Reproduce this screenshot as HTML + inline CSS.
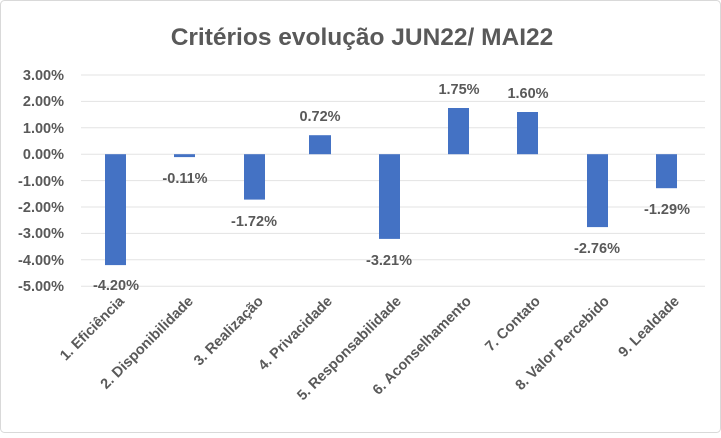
<!DOCTYPE html>
<html><head><meta charset="utf-8"><style>
body{margin:0;background:#fff}
svg text{font-family:"Liberation Sans",sans-serif;font-weight:bold;fill:#595959}
</style></head><body>
<svg width="721" height="433" viewBox="0 0 721 433" xmlns="http://www.w3.org/2000/svg">
<rect x="0.5" y="0.5" width="720" height="432" rx="4" fill="#fff" stroke="#d9d9d9"/>
<text x="362" y="45" font-size="24.5" text-anchor="middle">Critérios evolução JUN22/  MAI22</text>
<g stroke="#e3e3e3" stroke-width="1">
<line x1="81" x2="705" y1="75" y2="75"/><line x1="81" x2="705" y1="101.4" y2="101.4"/>
<line x1="81" x2="705" y1="127.8" y2="127.8"/><line x1="81" x2="705" y1="154.2" y2="154.2"/>
<line x1="81" x2="705" y1="180.6" y2="180.6"/><line x1="81" x2="705" y1="207" y2="207"/>
<line x1="81" x2="705" y1="233.4" y2="233.4"/><line x1="81" x2="705" y1="259.8" y2="259.8"/>
<line x1="81" x2="705" y1="286.2" y2="286.2"/>
</g>
<g font-size="14.5" text-anchor="end">
<text x="64" y="80">3.00%</text><text x="64" y="106">2.00%</text><text x="64" y="133">1.00%</text>
<text x="64" y="159">0.00%</text><text x="64" y="186">-1.00%</text><text x="64" y="212">-2.00%</text>
<text x="64" y="238">-3.00%</text><text x="64" y="265">-4.00%</text><text x="64" y="291">-5.00%</text>
</g>
<g fill="#4472c4">
<rect x="105" y="154.2" width="21" height="110.9"/>
<rect x="174" y="154.2" width="21" height="2.9"/>
<rect x="244" y="154.2" width="21" height="45.4"/>
<rect x="309" y="135.2" width="22" height="19"/>
<rect x="379" y="154.2" width="21" height="84.7"/>
<rect x="448" y="108" width="21" height="46.2"/>
<rect x="517" y="112" width="21" height="42.2"/>
<rect x="587" y="154.2" width="21" height="72.9"/>
<rect x="656" y="154.2" width="21" height="34"/>
</g>
<g font-size="14.5" text-anchor="middle">
<text x="116" y="290">-4.20%</text><text x="185" y="183">-0.11%</text><text x="254" y="226">-1.72%</text>
<text x="320" y="121">0.72%</text><text x="389" y="265">-3.21%</text><text x="459" y="94">1.75%</text>
<text x="528" y="98">1.60%</text><text x="597" y="253">-2.76%</text><text x="667" y="214">-1.29%</text>
</g>
<g font-size="14.5" text-anchor="end">
<text transform="translate(125,302) rotate(-45)">1. Eficiência</text>
<text transform="translate(194,302) rotate(-45)">2. Disponibilidade</text>
<text transform="translate(264,302) rotate(-45)">3. Realização</text>
<text transform="translate(333,302) rotate(-45)">4. Privacidade</text>
<text transform="translate(402,302) rotate(-45)">5. Responsabilidade</text>
<text transform="translate(472,302) rotate(-45)">6. Aconselhamento</text>
<text transform="translate(541,302) rotate(-45)">7. Contato</text>
<text transform="translate(610,302) rotate(-45)">8. Valor Percebido</text>
<text transform="translate(680,302) rotate(-45)">9. Lealdade</text>
</g>
</svg>
</body></html>
